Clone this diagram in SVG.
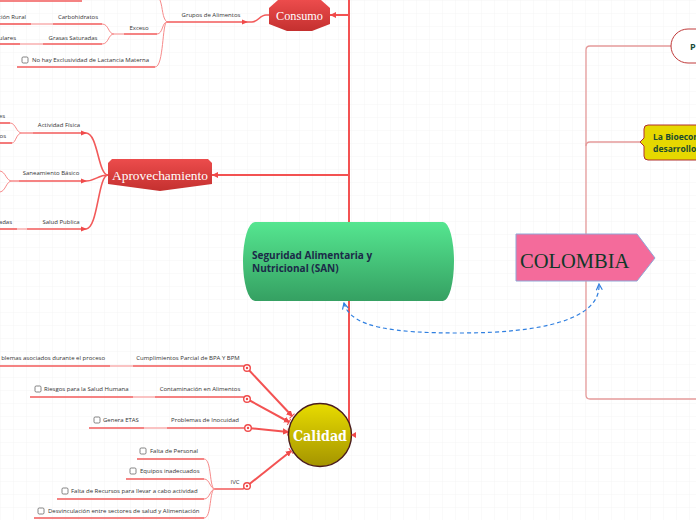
<svg xmlns="http://www.w3.org/2000/svg" width="696" height="520" viewBox="0 0 696 520">
<defs>
<pattern id="grid" width="13" height="13" patternUnits="userSpaceOnUse">
<path d="M13,0 L0,0 L0,13" fill="none" stroke="#efefef" stroke-width="0.7"/>
</pattern>
<linearGradient id="gGreen" x1="0" y1="0" x2="0" y2="1">
<stop offset="0" stop-color="#55e690"/><stop offset="1" stop-color="#35a062"/>
</linearGradient>
<linearGradient id="gRed" x1="0" y1="0" x2="0" y2="1">
<stop offset="0" stop-color="#ec4c4c"/><stop offset="1" stop-color="#c4302f"/>
</linearGradient>
<linearGradient id="gYel" x1="0" y1="0" x2="0" y2="1">
<stop offset="0" stop-color="#e8dc00"/><stop offset="1" stop-color="#a49400"/>
</linearGradient>
<marker id="arrR" viewBox="0 0 6 6" refX="5" refY="3" markerWidth="6" markerHeight="6" orient="auto" markerUnits="userSpaceOnUse">
<path d="M0,0.5 L6,3 L0,5.5 Z" fill="#f04a4a"/>
</marker>
<marker id="tick" viewBox="0 0 6 8" refX="5" refY="4" markerWidth="6" markerHeight="8" orient="auto" markerUnits="userSpaceOnUse">
<path d="M0,1.5 L5,4 L0,6.5 Z M5,0.5 L5,7.5" fill="#f04a4a" stroke="#f04a4a" stroke-width="1"/>
</marker>
<marker id="chev" viewBox="0 0 8 8" refX="7" refY="4" markerWidth="8" markerHeight="8" orient="auto-start-reverse" markerUnits="userSpaceOnUse">
<path d="M1,1 L7,4 L1,7" fill="none" stroke="#2f7fe0" stroke-width="1.2"/>
</marker>
</defs>
<style>
.lbl{font-family:"Open Sans","Noto Sans",sans-serif;font-size:6px;fill:#333}
.mid{text-anchor:middle}
.end{text-anchor:end}
.ul{fill:none;stroke:#f25a5a;stroke-width:1.6}
.lt{fill:none;stroke:#f9b4b4;stroke-width:1.6}
.br{fill:none;stroke:#f78a8a;stroke-width:1}
.main{fill:none;stroke:#f35252;stroke-width:2}
.cb{fill:#fff;stroke:#666;stroke-width:0.8}
.dot{fill:#fff;stroke:#f04a4a;stroke-width:1.4}
.rt{fill:none;stroke:#e59a9a;stroke-width:1.3}
.slab{font-family:"Liberation Serif","DejaVu Serif",serif;fill:#fff}
.bold{font-family:"Open Sans","Noto Sans",sans-serif;font-weight:bold}
</style>
<rect width="696" height="520" fill="#ffffff"/>
<rect width="696" height="520" fill="url(#grid)"/>

<g id="connectors">
<path class="main" d="M349,0 L349,435"/>
<path class="main" d="M330,15 L349,15"/>
<path class="main" d="M212,175 L349,175"/>
<path class="rt" d="M672,46 L590,46 Q586,46 586,50 L586,395 Q586,399 590,399 L696,399"/>
<path class="rt" d="M644,142 L590,142 Q586,142 586,146"/>
<path d="M344,303 C350,328 395,333 460,333 C540,333 601,320 599,284" fill="none" stroke="#2f7fe0" stroke-width="1.2" stroke-dasharray="4,3" marker-start="url(#chev)" marker-end="url(#chev)"/>

<path class="ul" d="M0,1 L82,1"/>
<path class="br" d="M167,22 C162,18 163,8 160,0"/>
<path class="ul" d="M167,22 L247,22" marker-end="url(#arrR)"/>
<path class="ul" d="M247,22 L252,22 C258,22 260,15 266,15 L270,15"/>
<path class="lt" d="M114,34 L124,34"/>
<path class="ul" d="M124,34 L157,34"/>
<path class="br" d="M157,34 C163,34 162,22 167,22"/>
<path class="ul" d="M17,67 L155,67"/>
<path class="br" d="M155,67 C164,67 162,22 167,22"/>
<path class="ul" d="M53,24 L102,24"/>
<path class="br" d="M102,24 C109,24 108,34 114,34"/>
<path class="ul" d="M43,44 L102,44"/>
<path class="br" d="M102,44 C109,44 108,34 114,34"/>
<path class="ul" d="M0,24 L31,24"/>
<path class="lt" d="M31,24 L53,24"/>
<path class="ul" d="M0,44 L20,44"/>
<path class="lt" d="M20,44 L43,44"/>

<path class="ul" d="M33,133 L86,133" marker-end="url(#arrR)"/>
<path class="ul" d="M19,181 L86,181" marker-end="url(#arrR)"/>
<path class="ul" d="M27,229 L86,229" marker-end="url(#arrR)"/>
<path class="ul" d="M86,133 C98,133 98,175 108,175"/>
<path class="ul" d="M86,181 C95,181 98,175 108,175"/>
<path class="ul" d="M86,229 C98,229 98,175 108,175"/>
<path class="br" d="M33,133 L22,133 C16,133 16,123 10,123"/>
<path class="br" d="M33,133 L22,133 C16,133 16,143 12,143"/>
<path class="ul" d="M0,123 L10,123"/>
<path class="ul" d="M0,143 L12,143"/>
<path class="br" d="M19,181 L12,181 C6,181 6,172 0,171"/>
<path class="br" d="M19,181 L12,181 C6,181 6,191 0,192"/>
<path class="ul" d="M0,229 L17,229"/>
<path class="lt" d="M17,229 L27,229"/>

<path class="ul" d="M0,366 L110,366"/>
<path class="lt" d="M110,366 L133,366"/>
<path class="ul" d="M133,366 L243,366 L247,368"/>
<path class="ul" d="M30,397 L133,397"/>
<path class="lt" d="M133,397 L155,397"/>
<path class="ul" d="M155,397 L243,397 L247,399"/>
<path class="ul" d="M89,428 L144,428"/>
<path class="lt" d="M144,428 L167,428"/>
<path class="ul" d="M167,428 L248,428"/>
<path class="ul" d="M215,489 L243,489 L247,486"/>
<path class="ul" d="M137,459 L204,459"/>
<path class="ul" d="M126,479 L204,479"/>
<path class="ul" d="M57,499 L204,499"/>
<path class="ul" d="M34,518 L204,518"/>
<path class="br" d="M204,459 C212,459 209,489 215,489"/>
<path class="br" d="M204,479 C210,479 210,489 215,489"/>
<path class="br" d="M204,499 C210,499 210,489 215,489"/>
<path class="br" d="M204,518 C212,518 209,489 215,489"/>
<path class="main" d="M247,368 L292,416" marker-end="url(#tick)"/>
<path class="main" d="M247,399 L289,422" marker-end="url(#tick)"/>
<path class="main" d="M248,428 L288,432" marker-end="url(#tick)"/>
<path class="main" d="M247,486 L291,451" marker-end="url(#tick)"/>
<circle class="dot" cx="247" cy="368" r="3.3"/><circle cx="247" cy="368" r="1.2" fill="#f04a4a"/>
<circle class="dot" cx="247" cy="399" r="3.3"/><circle cx="247" cy="399" r="1.2" fill="#f04a4a"/>
<circle class="dot" cx="248" cy="428" r="3.3"/><circle cx="248" cy="428" r="1.2" fill="#f04a4a"/>
<circle class="dot" cx="247" cy="486" r="3.3"/><circle cx="247" cy="486" r="1.2" fill="#f04a4a"/>
</g>

<g id="consumo-labels">
<text class="lbl end" x="26" y="19">ción Rural</text>
<text class="lbl mid" x="78" y="19">Carbohidratos</text>
<text class="lbl end" x="16" y="40">ulares</text>
<text class="lbl mid" x="73" y="40">Grasas Saturadas</text>
<text class="lbl mid" x="139" y="30">Exceso</text>
<text class="lbl mid" x="211" y="17">Grupos de Alimentos</text>
<rect class="cb" x="22" y="57" width="6" height="6" rx="1.2"/>
<text class="lbl" x="32" y="62">No hay Exclusividad de Lactancia Materna</text>
</g>
<g id="aprovechamiento-labels">
<text class="lbl end" x="5" y="118">es</text>
<text class="lbl end" x="6" y="138">os</text>
<text class="lbl mid" x="59" y="127">Actividad Física</text>
<text class="lbl mid" x="51" y="175">Saneamiento Básico</text>
<text class="lbl end" x="12" y="224">adas</text>
<text class="lbl mid" x="61" y="224">Salud Publica</text>
</g>
<g id="calidad-labels">
<text class="lbl end" x="105" y="360">blemas asociados durante el proceso</text>
<text class="lbl mid" x="188" y="360">Cumplimientos Parcial de BPA Y BPM</text>
<rect class="cb" x="35" y="386" width="6" height="6" rx="1.2"/>
<text class="lbl" x="44" y="391">Riesgos para la Salud Humana</text>
<text class="lbl mid" x="200" y="391">Contaminación en Alimentos</text>
<rect class="cb" x="94" y="417" width="6" height="6" rx="1.2"/>
<text class="lbl" x="103" y="422">Genera ETAS</text>
<text class="lbl mid" x="205" y="422">Problemas de Inocuidad</text>
<text class="lbl mid" x="235" y="484">IVC</text>
<rect class="cb" x="140" y="448" width="6" height="6" rx="1.2"/>
<text class="lbl" x="150" y="453">Falta de Personal</text>
<rect class="cb" x="130" y="468" width="6" height="6" rx="1.2"/>
<text class="lbl" x="140" y="473">Equipos inadecuados</text>
<rect class="cb" x="62" y="488" width="6" height="6" rx="1.2"/>
<text class="lbl" x="71" y="493">Falta de Recursos para llevar  a cabo actividad</text>
<rect class="cb" x="38" y="508" width="6" height="6" rx="1.2"/>
<text class="lbl" x="48" y="513">Desvinculación entre sectores de salud y Alimentación</text>
</g>

<g id="node-consumo">
<polygon points="278,0 321,0 330,8 330,24 312,31 287,31 269,24 269,8" fill="url(#gRed)"/>
<polygon points="330,15 336,12 336,18" fill="#f04a4a"/>
<text class="slab" x="299.5" y="20" font-size="13" text-anchor="middle" textLength="47" lengthAdjust="spacingAndGlyphs">Consumo</text>
</g>

<g id="node-aprovechamiento">
<polygon points="112,159 208,159 212,163 212,184 160,191 108,184 108,163" fill="url(#gRed)"/>
<polygon points="212,175 218,172 218,178" fill="#f04a4a"/>
<text class="slab" x="160" y="180" font-size="13" text-anchor="middle" textLength="96" lengthAdjust="spacingAndGlyphs">Aprovechamiento</text>
</g>

<g id="node-san">
<path d="M255,222 L443,222 A11,39.5 0 0 1 443,301 L255,301 A12,39.5 0 0 1 255,222 Z" fill="url(#gGreen)"/>
<text class="bold" x="252" y="259" font-size="10" fill="#1b2a48">Seguridad Alimentaria y</text>
<text class="bold" x="252" y="272" font-size="10" fill="#1b2a48">Nutricional (SAN)</text>
</g>

<g id="node-calidad">
<circle cx="320" cy="435" r="31.5" fill="url(#gYel)" stroke="#4a1c1c" stroke-width="1.4"/>
<polygon points="351,435 356,432 356,438" fill="#f04a4a"/>
<text x="320" y="441" font-family="'DejaVu Serif',serif" font-weight="bold" font-size="14" fill="#fff" text-anchor="middle" textLength="54" lengthAdjust="spacingAndGlyphs">Calidad</text>
</g>

<g id="node-colombia">
<polygon points="516,234 637,234 655,258 637,281 516,281" fill="#f46b9b" stroke="#8fa6d6" stroke-width="1"/>
<text x="520" y="268" font-family="'Liberation Serif',serif" font-size="20.5" fill="#103828">COLOMBIA</text>
</g>

<g id="node-p">
<rect x="671" y="29" width="60" height="34" rx="17" fill="#fff" stroke="#c03a3a" stroke-width="1"/>
<text class="bold" x="690" y="50" font-size="9" fill="#1a4a3a">P</text>
</g>

<g id="node-bio">
<path d="M648,125 L700,125 L700,160 L648,160 Q644,160 644,156 L644,146 L640,142 L644,138 L644,129 Q644,125 648,125 Z" fill="#e6d800" stroke="#b0302e" stroke-width="1"/>
<text class="bold" x="653" y="140" font-size="8.5" fill="#1a4a30">La Bioecon</text>
<text class="bold" x="653" y="152" font-size="8.5" fill="#1a4a30">desarrollo</text>
</g>
</svg>
